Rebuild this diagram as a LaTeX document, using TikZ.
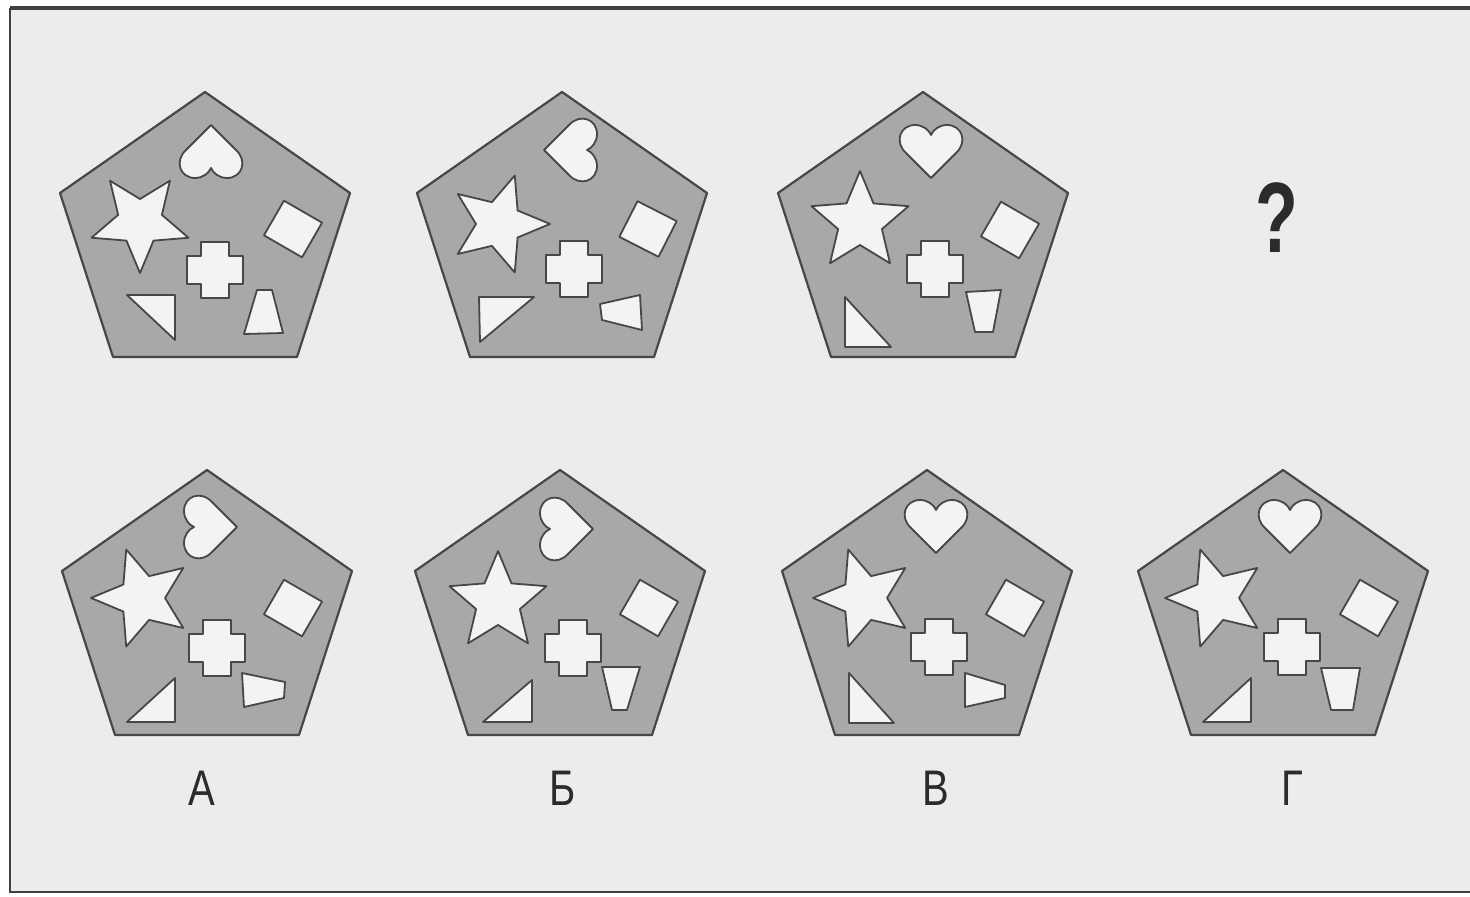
\documentclass[tikz,border=0pt]{standalone}
\usepackage{fontspec}
\setmainfont{Liberation Sans}
\definecolor{bgpaper}{HTML}{ECECEC}
\definecolor{pentgray}{HTML}{A8A8A8}
\definecolor{holewhite}{HTML}{F3F3F3}
\definecolor{edgegray}{HTML}{474747}
\definecolor{txtgray}{HTML}{2B2B2B}
\def\heartpath{(0,26) -- (-25,1) .. controls (-37,-10) and (-31,-27) .. (-16,-27) .. controls (-8,-27) and (-2,-22) .. (0,-17) .. controls (2,-22) and (8,-27) .. (16,-27) .. controls (31,-27) and (37,-10) .. (25,1) -- cycle}
\def\starpath{(0,-51) -- (-13.5,-18.6) -- (-48.5,-15.8) -- (-21.9,7.1) -- (-30,41.3) -- (0,23) -- (30,41.3) -- (21.9,7.1) -- (48.5,-15.8) -- (13.5,-18.6) -- cycle}
\def\crosspath{(-14,-28) -- (14,-28) -- (14,-14) -- (28,-14) -- (28,14) -- (14,14) -- (14,28) -- (-14,28) -- (-14,14) -- (-28,14) -- (-28,-14) -- (-14,-14) -- cycle}
\def\pentpath{(0,0) -- (145,101) -- (92,265) -- (-92,265) -- (-145,101) -- cycle}
\begin{document}
\begin{tikzpicture}[x=0.5pt,y=-0.5pt,
  pent/.style={fill=pentgray,draw=edgegray,line width=1.1pt,line join=round},
  hole/.style={fill=holewhite,draw=edgegray,line width=0.9pt,line join=round},
  lbl/.style={text=txtgray,font=\fontsize{25}{28}\selectfont,inner sep=0pt},
  qst/.style={text=txtgray,font=\fontsize{50}{56}\selectfont\bfseries,inner sep=0pt},
  framel/.style={draw=black!75,line width=1.2pt}]
\useasboundingbox (0,0) rectangle (1470,897);
\fill[white] (0,0) rectangle (1470,897);
\fill[bgpaper] (10,8) rectangle (1470,892);
\draw[framel] (10,8) -- (10,892) -- (1470,892);
\draw[framel,line width=1.6pt] (10,8) -- (1470,8);

% ---- top row ----
\begin{scope}[shift={(205,92)}]
  \path[pent] \pentpath;
  \path[hole,shift={(6,59)},rotate=180] \heartpath;
  \path[hole,shift={(-65,130)},rotate=36] \starpath;
  \path[hole,shift={(88,137)},rotate=-30] (-22,-20) rectangle (22,20);
  \path[hole,shift={(10,178)}] \crosspath;
  \path[hole] (-78,203) -- (-30,203) -- (-30,248) -- cycle;
  \path[hole] (52,198) -- (67,198) -- (78,241) -- (39,242) -- cycle;
\end{scope}
\begin{scope}[shift={(562,92)}]
  \path[pent] \pentpath;
  \path[hole,shift={(8,58)},rotate=-90] \heartpath;
  \path[hole,shift={(-63,132)},rotate=-18] \starpath;
  \path[hole,shift={(86,137)},rotate=-27] (-22,-20) rectangle (22,20);
  \path[hole,shift={(12,177)}] \crosspath;
  \path[hole] (-83,205) -- (-28,205) -- (-82,250) -- cycle;
  \path[hole] (38,212) -- (78,203) -- (80,238) -- (40,228) -- cycle;
\end{scope}
\begin{scope}[shift={(923,92)}]
  \path[pent] \pentpath;
  \path[hole,shift={(8,60)}] \heartpath;
  \path[hole,shift={(-63,130)}] \starpath;
  \path[hole,shift={(87,138)},rotate=-30] (-22,-20) rectangle (22,20);
  \path[hole,shift={(12,177)}] \crosspath;
  \path[hole] (-78,205) -- (-78,255) -- (-32,255) -- cycle;
  \path[hole] (43,200) -- (78,198) -- (70,240) -- (52,240) -- cycle;
\end{scope}
\node[qst] (q) at (1277,218) {\scalebox{0.7}[1]{?}};

% ---- answer row ----
\begin{scope}[shift={(207,470)}]
  \path[pent] \pentpath;
  \path[hole,shift={(4,57)},rotate=90] \heartpath;
  \path[hole,shift={(-65,128)},rotate=18] \starpath;
  \path[hole,shift={(86,138)},rotate=-30] (-22,-20) rectangle (22,20);
  \path[hole,shift={(10,178)}] \crosspath;
  \path[hole] (-32,208) -- (-32,252) -- (-80,252) -- cycle;
  \path[hole] (35,203) -- (78,212) -- (77,228) -- (37,237) -- cycle;
\end{scope}
\begin{scope}[shift={(560,470)}]
  \path[pent] \pentpath;
  \path[hole,shift={(7,59)},rotate=90] \heartpath;
  \path[hole,shift={(-62,132)}] \starpath;
  \path[hole,shift={(89,138)},rotate=-30] (-22,-20) rectangle (22,20);
  \path[hole,shift={(13,178)}] \crosspath;
  \path[hole] (-28,210) -- (-28,252) -- (-77,252) -- cycle;
  \path[hole] (42,197) -- (80,197) -- (67,240) -- (52,240) -- cycle;
\end{scope}
\begin{scope}[shift={(927,470)}]
  \path[pent] \pentpath;
  \path[hole,shift={(9,57)}] \heartpath;
  \path[hole,shift={(-63,128)},rotate=18] \starpath;
  \path[hole,shift={(88,138)},rotate=-30] (-22,-20) rectangle (22,20);
  \path[hole,shift={(12,177)}] \crosspath;
  \path[hole] (-78,203) -- (-78,253) -- (-33,253) -- cycle;
  \path[hole] (38,203) -- (78,215) -- (78,228) -- (38,237) -- cycle;
\end{scope}
\begin{scope}[shift={(1283,470)}]
  \path[pent] \pentpath;
  \path[hole,shift={(7,57)}] \heartpath;
  \path[hole,shift={(-67,128)},rotate=18] \starpath;
  \path[hole,shift={(86,138)},rotate=-30] (-22,-20) rectangle (22,20);
  \path[hole,shift={(9,177)}] \crosspath;
  \path[hole] (-32,208) -- (-32,252) -- (-80,252) -- cycle;
  \path[hole] (38,198) -- (77,198) -- (70,240) -- (48,240) -- cycle;
\end{scope}

\node[lbl] (la) at (202,788) {\scalebox{0.8}[1]{А}};
\node[lbl] (lb) at (563,788) {\scalebox{0.8}[1]{Б}};
\node[lbl] (lv) at (936,788) {\scalebox{0.8}[1]{В}};
\node[lbl] (lg) at (1292,788) {\scalebox{0.8}[1]{Г}};
\end{tikzpicture}
\end{document}
